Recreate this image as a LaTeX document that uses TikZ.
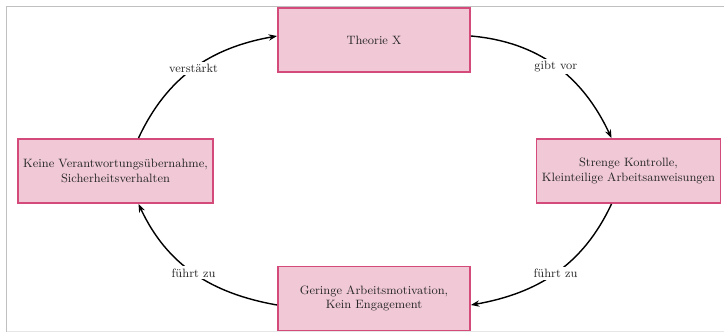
\documentclass[tikz,border=0pt]{standalone}
\usepackage{tikz}
\usetikzlibrary{arrows.meta, calc}
\definecolor{boxpink}{RGB}{240, 200, 214}
\definecolor{boxrose}{RGB}{212, 74, 122}
\definecolor{framegray}{RGB}{192, 192, 192}

\begin{document}
\begin{tikzpicture}[x=0.025cm, y=0.025cm, font=\fontsize{8.6}{10.3}\selectfont,
    stage/.style={draw=boxrose, fill=boxpink, line width=1.3pt, align=center, minimum height=1.6cm, inner xsep=2pt, text=black!85},
    cycle/.style={-{Stealth[length=6pt, width=4.5pt]}, line width=1pt, black},
    tag/.style={fill=white, inner sep=1.5pt, text=black!85}]
        \useasboundingbox (0,0) rectangle (724,-332);
        \draw[framegray, line width=1.4pt] (6.5,-332) -- (6.5,-6.5) -- (724,-6.5);
        \draw[framegray!40, line width=0.6pt] (6.5,-331.5) -- (724,-331.5);

        \node[stage, minimum width=4.8cm] (theorie) at (374,-40) {Theorie X};
        \node[stage, minimum width=4.6cm] (kontrolle) at (628.5,-171) {Strenge Kontrolle,\\Kleinteilige Arbeitsanweisungen};
        \node[stage, minimum width=4.8cm] (motivation) at (374,-298.5) {Geringe Arbeitsmotivation,\\Kein Engagement};
        \node[stage, minimum width=4.875cm] (verantwortung) at (115.5,-171) {Keine Verantwortungsübernahme,\\Sicherheitsverhalten};

        \draw[cycle] ($(theorie.east)+(0,4)$) to[out=-5, in=115] node[tag] {gibt vor} ($(kontrolle.north)+(-17,0)$);
        \draw[cycle] ($(kontrolle.south)+(-17,0)$) to[out=-115, in=10] node[tag] {führt zu} ($(motivation.east)+(0,-6.5)$);
        \draw[cycle] ($(motivation.west)+(0,-6.5)$) to[out=170, in=-65] node[tag] {führt zu} ($(verantwortung.south)+(23,0)$);
        \draw[cycle] ($(verantwortung.north)+(23,0)$) to[out=65, in=190] node[tag] {verstärkt} ($(theorie.west)+(0,4)$);
    \end{tikzpicture}
\end{document}
